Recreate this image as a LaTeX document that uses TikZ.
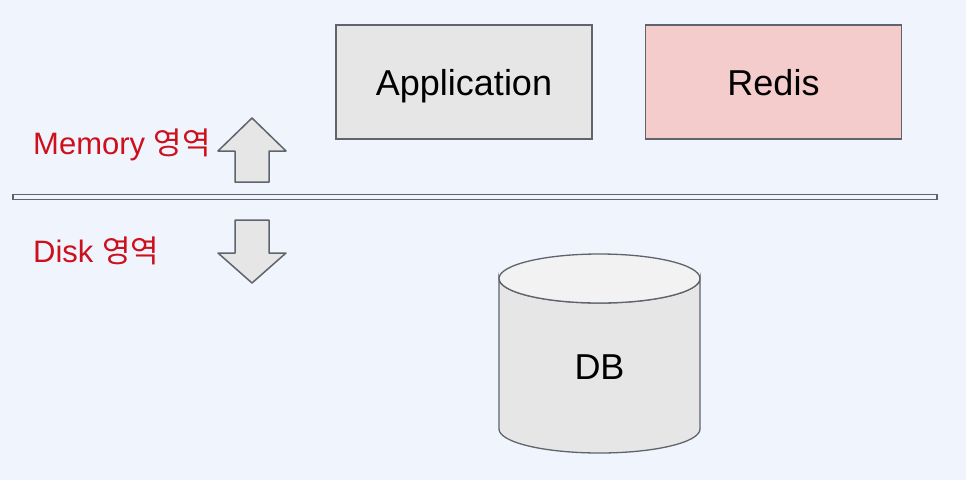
\documentclass[tikz,border=0pt]{standalone}
\usepackage{fontspec}
\setmainfont{Liberation Sans}
\newfontfamily\krfont{Noto Sans CJK KR}
\usepackage{tikz}
\definecolor{bgblue}{RGB}{240,245,253}
\definecolor{edgegray}{RGB}{95,100,108}
\definecolor{boxgray}{RGB}{230,230,230}
\definecolor{redisred}{RGB}{244,204,204}
\definecolor{labelred}{RGB}{204,16,28}
\definecolor{dbtop}{RGB}{242,242,242}
\tikzset{
	box/.style={draw=edgegray, line width=1.3pt, minimum width=256pt, minimum height=114pt, inner sep=0pt, text height=26pt, text depth=0pt, font=\fontsize{36}{42}\selectfont},
	zone/.style={text=labelred, anchor=base west, inner sep=0pt, font=\fontsize{31}{36}\selectfont},
	arr/.style={draw=edgegray, fill=boxgray, line width=1.5pt, line join=round}
}

\begin{document}
\begin{tikzpicture}[x=1pt, y=-1pt]
	%%%%% START %%%%%
	\fill[bgblue] (0, 0) rectangle (966, 480);
	\useasboundingbox (0, 0) rectangle (966, 480);
	
	\node[box, fill=boxgray] (app) at (464, 82) {Application};
	\node[box, fill=redisred] (redis) at (773.5, 82) {Redis};
	
	\draw[draw=edgegray, fill=bgblue, line width=1.8pt] (13, 194.5) rectangle (937, 199.5);
	
	\node[zone] (mem) at (33, 154) {Memory {\krfont 영역}};
	\node[zone] (disk) at (33, 262) {Disk {\krfont 영역}};
	
	\draw[arr] (235, 182) -- (235, 151) -- (218, 151) -- (252, 118) -- (286, 151) -- (269, 151) -- (269, 182) -- cycle;
	\draw[arr] (235, 220) -- (235, 253) -- (218, 253) -- (252, 283) -- (286, 253) -- (269, 253) -- (269, 220) -- cycle;
	
	\draw[draw=edgegray, fill=boxgray, line width=1.3pt] (499, 278.5) -- (499, 429) arc[start angle=180, end angle=0, x radius=100.5, y radius=24] -- (700, 278.5) arc[start angle=0, end angle=180, x radius=100.5, y radius=24.5] -- cycle;
	\draw[draw=edgegray, fill=dbtop, line width=1.3pt] (599.5, 278.5) ellipse [x radius=100.5, y radius=24.5];
	\node[box, draw=none, minimum width=0pt, minimum height=0pt] (db) at (599.5, 366) {DB};
	%%%%% END %%%%%
\end{tikzpicture}
\end{document}
